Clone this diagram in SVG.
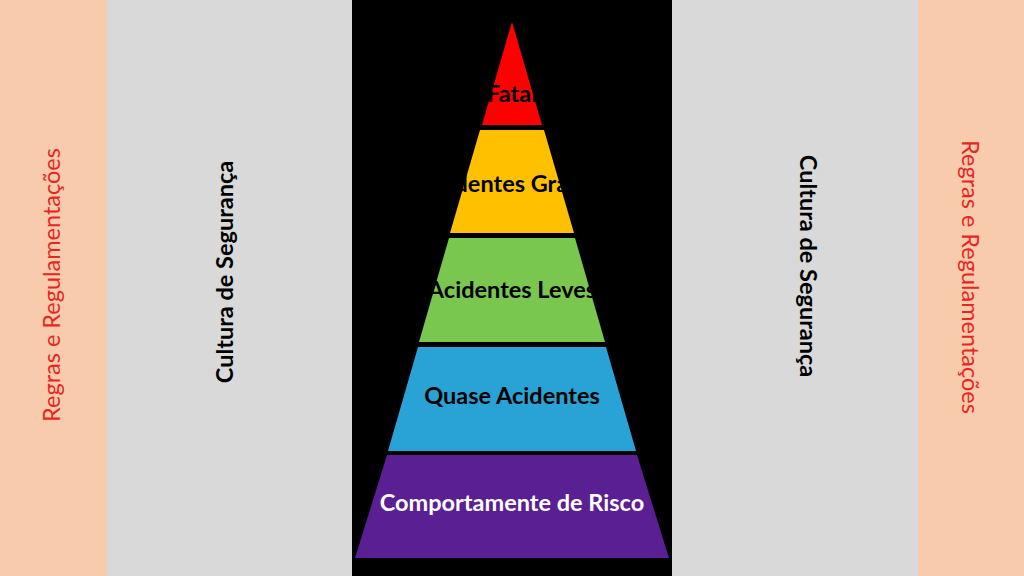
<svg xmlns="http://www.w3.org/2000/svg" width="1024" height="576" viewBox="0 0 1024 576">
<style>
.l{font-family:Lato,"Open Sans",sans-serif;font-weight:bold;font-size:23.5px;text-anchor:middle;fill:#000}
.r{font-family:Lato,"Open Sans",sans-serif;font-size:23.5px;text-anchor:middle;fill:#e8261f}
.c{font-family:Lato,"Open Sans",sans-serif;font-weight:bold;font-size:23.5px;text-anchor:middle;fill:#000}
</style>
<rect x="0" y="0" width="1024" height="576" fill="#f8cbad"/>
<rect x="107" y="0" width="811" height="576" fill="#d9d9d9"/>
<rect x="352" y="0" width="320" height="576" fill="#000"/>
<text class="r" transform="translate(60,285) rotate(-90)">Regras e Regulamentações</text>
<text class="c" transform="translate(233,272) rotate(-90)">Cultura de Segurança</text>
<text class="c" transform="translate(800,266) rotate(90)">Cultura de Segurança</text>
<text class="r" transform="translate(962,277) rotate(90)">Regras e Regulamentações</text>
<g id="fatal"><polygon points="512,22 482,125 542,125" fill="#ff0000"/><text class="l" x="512" y="102">Fatal</text></g>
<g id="graves"><polygon points="480,130 544,130 574,233 450,233" fill="#ffc000"/><text class="l" x="512" y="192">Acidentes Graves</text></g>
<g id="leves"><polygon points="449,238 575,238 605,342 419,342" fill="#7ac74f"/><text class="l" x="512" y="298">Acidentes Leves</text></g>
<g id="quase"><polygon points="418,347 606,347 636,451 388,451" fill="#29a3d6"/><text class="l" x="512" y="404" fill="#10203a">Quase Acidentes</text></g>
<g id="risco"><polygon points="387,455 637,455 669,558 355,558" fill="#5a1f92"/><text class="l" x="512" y="511" style="fill:#fff">Comportamente de Risco</text></g>
</svg>
